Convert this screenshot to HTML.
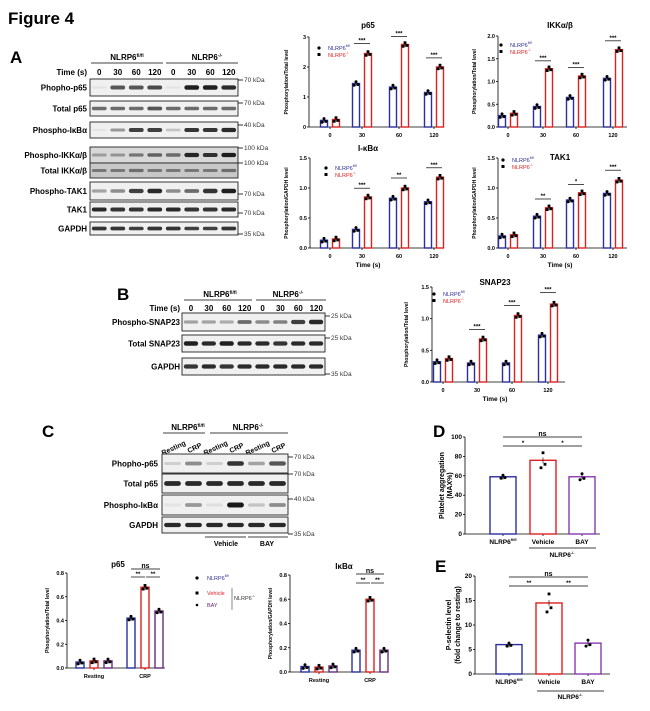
<!DOCTYPE html>
<html><head><meta charset="utf-8"><style>
html,body{margin:0;padding:0;background:#fff;}
svg{display:block;font-family:"Liberation Sans",Arial,sans-serif;}
</style></head><body>
<svg id="s" width="650" height="711" viewBox="0 0 650 711" xmlns="http://www.w3.org/2000/svg">
<text x="8" y="24" font-size="17" font-weight="bold">Figure 4</text>
<text x="10" y="63" font-size="17" font-weight="bold">A</text>
<text x="117" y="300" font-size="17" font-weight="bold">B</text>
<text x="42" y="437" font-size="17" font-weight="bold">C</text>
<text x="433" y="437" font-size="17" font-weight="bold">D</text>
<text x="435" y="572" font-size="17" font-weight="bold">E</text>
</svg>
<script>
const S=document.getElementById('s');let h='';
const B='#2b2f9e',R='#e02020',P='#6a2a7a';
function T(x,y,t,o){o=o||{};h+=`<text x="${x}" y="${y}" font-size="${o.fs||6}" ${o.b?'font-weight="bold"':''} text-anchor="${o.a||'middle'}" fill="${o.c||'#000'}" ${o.r?`transform="rotate(${o.r} ${x} ${y})"`:''}>${t}</text>`;}
function L(x1,y1,x2,y2,c,w){h+=`<line x1="${x1}" y1="${y1}" x2="${x2}" y2="${y2}" stroke="${c||'#000'}" stroke-width="${w||0.8}"/>`;}
const fl='NLRP6<tspan font-size="60%" dy="-3">fl/fl</tspan>',ko='NLRP6<tspan font-size="60%" dy="-3">-/-</tspan>';
function blot(x1,x2,y1,y2,n,ints,bg){h+=`<rect x="${x1}" y="${y1}" width="${x2-x1}" height="${y2-y1}" fill="${bg||'#f0f0f0'}" stroke="#222" stroke-width="0.9"/>`;
 const lw=(x2-x1)/n;for(let i=0;i<n;i++){const a=ints[i];const cx=x1+lw*(i+.5),cy=(y1+y2)/2;const hh=Math.max(1.5,(y2-y1)*0.14+a*2.2);
 h+=`<rect x="${cx-lw*0.4}" y="${cy-hh/2}" width="${lw*0.8}" height="${hh}" rx="${hh/2}" fill="rgba(20,20,20,${a})"/>`;}}
function chart(c){const y=v=>c.y0-(v/c.max)*(c.y0-c.yt);
 L(c.ax,c.yt,c.ax,c.y0);L(c.ax,c.y0,c.xe,c.y0);
 c.ticks.forEach(t=>{L(c.ax-2,y(t[0]),c.ax,y(t[0]));T(c.ax-3,y(t[0])+2,t[1],{a:'end',fs:c.fs||5.5,b:1});});
 c.cats.forEach(k=>{L(k[0],c.y0,k[0],c.y0+2);T(k[0],c.y0+10,k[1],{fs:c.cfs||5.5,b:1});});
 if(c.title)T(c.tx,c.ty,c.title,{fs:c.tfs||8,b:1});
 if(c.xl)T(c.tx,c.y0+19,c.xl,{fs:6.5,b:1});
 c.yl.forEach((l,i)=>T(l[0],(c.yt+c.y0)/2,l[1],{fs:c.yfs||5,b:1,r:-90}));
 c.bars.forEach(b=>{const w=b.w||7,top=y(b.v);h+=`<rect x="${b.x-w/2}" y="${top}" width="${w}" height="${c.y0-top}" fill="#fff" stroke="${b.c}" stroke-width="1.4"/>`;
  const e=(c.y0-c.yt)*0.03;L(b.x,top-e,b.x,top+e,'#000',0.6);
  [-2,0,2].forEach((d,i)=>{const yy=top+[1.5,-1.5,0.8][i]*(b.sp||1.2);if(b.m=='s')h+=`<rect x="${b.x+d-1.4}" y="${yy-1.4}" width="2.8" height="2.8" fill="#000"/>`;else h+=`<circle cx="${b.x+d}" cy="${yy}" r="1.5" fill="#000"/>`;});});
 (c.sig||[]).forEach(s=>{L(s[0],s[2],s[1],s[2],'#000',0.7);T((s[0]+s[1])/2,s[2]-1,s[3],{fs:s[4]||6,b:1});});
 if(c.leg){const [lx,ly]=c.leg;h+=`<circle cx="${lx}" cy="${ly}" r="1.6" fill="#000"/><rect x="${lx-1.5}" y="${ly+5}" width="3" height="3" fill="#000"/>`;
  T(lx+9,ly+2,fl,{a:'start',fs:5.5,c:B});T(lx+9,ly+9,ko,{a:'start',fs:5.5,c:R});}}
const AX1=90,AX2=238;
T(127,60,fl,{fs:8,b:1});L(91,63,163,63);T(207,60,ko,{fs:8,b:1});L(166,63,238,63);
T(87,75,'Time (s)',{a:'end',fs:8,b:1});
['0','30','60','120','0','30','60','120'].forEach((t,i)=>T(AX1+18.5*(i+.5),75,t,{fs:8,b:1}));
const rowsA=[['Phopho-p65',79,96,[.05,.7,.7,.75,.05,.95,.95,.9],'70 kDa',82],
['Total p65',101,116,[.6,.6,.6,.7,.6,.6,.6,.6],'70 kDa',105],
['Phospho-I&#954;B&#945;',122,138,[.05,.4,.8,.8,.2,.85,.85,.9],'40 kDa',127],
['Phospho-IKK&#945;/&#946;',147,163,[.3,.35,.5,.6,.55,.9,.85,.95],'100 kDa',150],
['Total IKK&#945;/&#946;',163,178,[.45,.45,.5,.45,.45,.45,.45,.5],'100 kDa',165],
['Phospho-TAK1',182,200,[.35,.45,.8,.9,.45,.6,.85,.95],'70 kDa',196],
['TAK1',202,217,[.9,.85,.85,.9,.9,.85,.85,.9],'70 kDa',215],
['GAPDH',222,235,[.85,.85,.8,.85,.85,.8,.8,.85],'35 kDa',236]];
rowsA.forEach(r=>{blot(AX1,AX2,r[1],r[2],8,r[3],r[0].startsWith('Total IKK')?'#c8c8c8':(r[0].startsWith('Phospho-IKK')?'#d8d8d8':'#f0f0f0'));T(87,(r[1]+r[2])/2+3,r[0],{a:'end',fs:8,b:1});L(238,r[5]-2,243,r[5]-2);T(244,r[5],r[4],{a:'start',fs:6.5,c:'#333'});});
function grp(ticks,b,r,off){let o=[];ticks.forEach((t,i)=>{o.push({x:t-off,v:b[i],c:B,m:'c'});o.push({x:t+off,v:r[i],c:R,m:'s'});});return o;}
const cA=[330,362,399,434],cB=[508,543,576,613];
function sig4(ticks,r,max,y0,yt,labs){return ticks.map((t,i)=>{const yy=y0-(r[i]/max)*(y0-yt)-7;return [t-8,t+8,yy,labs[i]];});}
let d={ax:309,y0:127,yt:37,max:3,xe:443,ticks:[[0,'0'],[1,'1'],[2,'2'],[3,'3']],cats:cA.map((x,i)=>[x,['0','30','60','120'][i]]),title:'p65',tx:368,ty:28,yl:[[288,'Phosphorylation/Total level']],leg:[319,48]};
d.bars=grp(cA,[.22,1.45,1.33,1.15],[.25,2.45,2.75,2.0],6);d.sig=sig4(cA,[.25,2.55,2.78,2.07],3,127,37,['','***','***','***']).filter(s=>s[3]);chart(d);
d={ax:498,y0:127,yt:36,max:2,xe:627,ticks:[[0,'0.0'],[.5,'0.5'],[1,'1.0'],[1.5,'1.5'],[2,'2.0']],cats:cB.map((x,i)=>[x,['0','30','60','120'][i]]),title:'IKK&#945;/&#946;',tx:560,ty:28,yl:[[476,'Phosphorylation/Total level']],leg:[501,45]};
d.bars=grp(cB,[.25,.45,.65,1.07],[.3,1.28,1.12,1.7],6);d.sig=sig4(cB,[.3,1.3,1.15,1.74],2,127,36,['','***','***','***']).filter(s=>s[3]);chart(d);
d={ax:310,y0:248,yt:158,max:1.5,xe:443,ticks:[[0,'0.0'],[.5,'0.5'],[1,'1.0'],[1.5,'1.5']],cats:cA.map((x,i)=>[x,['0','30','60','120'][i]]),title:'I-&#954;B&#945;',tx:368,ty:151,xl:'Time (s)',yl:[[288,'Phosphorylation/GAPDH level']],leg:[326,168]};
d.bars=grp(cA,[.13,.31,.83,.77],[.15,.85,1.0,1.18],6);d.sig=sig4(cA,[.15,.88,1.05,1.22],1.5,248,158,['','***','**','***']).filter(s=>s[3]);chart(d);
d={ax:498,y0:248,yt:158,max:1.5,xe:627,ticks:[[0,'0.0'],[.5,'0.5'],[1,'1.0'],[1.5,'1.5']],cats:cB.map((x,i)=>[x,['0','30','60','120'][i]]),title:'TAK1',tx:560,ty:160,xl:'Time (s)',yl:[[476,'Phosphorylation/GAPDH level']],leg:[503,160]};
d.bars=grp(cB,[.2,.53,.8,.91],[.22,.67,.92,1.13],6);d.sig=sig4(cB,[.22,.7,.94,1.18],1.5,248,158,['','**','*','***']).filter(s=>s[3]);chart(d);
const BX1=182,BX2=325;
T(220,297,fl,{fs:8,b:1});L(184,300,252,300);T(288,297,ko,{fs:8,b:1});L(256,300,326,300);
T(180,311,'Time (s)',{a:'end',fs:8,b:1});
['0','30','60','120','0','30','60','120'].forEach((t,i)=>T(BX1+17.9*(i+.5),311,t,{fs:8,b:1}));
[['Phospho-SNAP23',313,331,[.35,.35,.3,.6,.45,.5,.8,.9],'25 kDa',318],
['Total SNAP23',335,352,[.95,.9,.95,.9,.9,.85,.9,.9],'25 kDa',340],
['GAPDH',358,375,[.85,.9,.85,.9,.9,.9,.9,.9],'35 kDa',376]].forEach(r=>{blot(BX1,BX2,r[1],r[2],8,r[3]);T(180,(r[1]+r[2])/2+3,r[0],{a:'end',fs:8,b:1});L(325,r[5]-2,330,r[5]-2);T(331,r[5],r[4],{a:'start',fs:6.5,c:'#333'});});
const cS=[443,477,512,548];
d={ax:432,y0:382,yt:287,max:1.5,xe:565,ticks:[[0,'0.0'],[.5,'0.5'],[1,'1.0'],[1.5,'1.5']],cats:cS.map((x,i)=>[x,['0','30','60','120'][i]]),title:'SNAP23',tx:495,ty:285,xl:'Time (s)',yl:[[408,'Phosphorylation/Total level']],leg:[434,294]};
d.bars=grp(cS,[.32,.3,.3,.74],[.37,.68,1.05,1.23],6);d.sig=sig4(cS,[.37,.72,1.1,1.3],1.5,382,287,['','***','***','***']).filter(s=>s[3]);chart(d);
const CX1=162,CX2=288;
T(188,430,fl,{fs:8,b:1});L(163,433,205,433);T(248,430,ko,{fs:8,b:1});L(210,433,288,433);
['Resting','CRP','Resting','CRP','Resting','CRP'].forEach((t,i)=>T(CX1+21*(i+.5)+2,450,t,{fs:7,b:1,r:-25}));
[['Phopho-p65',454,473,[.15,.45,.15,.85,.35,.7],'70 kDa',459],
['Total p65',474,493,[.9,.9,.9,.9,.9,.9],'70 kDa',476],
['Phospho-I&#954;B&#945;',495,515,[.05,.4,.08,.98,.2,.45],'40 kDa',501],
['GAPDH',517,533,[.9,.9,.9,.9,.9,.9],'35 kDa',536]].forEach(r=>{blot(CX1,CX2,r[1],r[2],6,r[3]);T(158,(r[1]+r[2])/2+3,r[0],{a:'end',fs:8,b:1});L(288,r[5]-2,293,r[5]-2);T(294,r[5],r[4],{a:'start',fs:6.5,c:'#333'});});
L(205,537,246,537);L(248,537,288,537);T(226,546,'Vehicle',{fs:7,b:1});T(267,546,'BAY',{fs:7,b:1});
function grp3(cs,b,r,p){let o=[];cs.forEach((t,i)=>{o.push({x:t-14,v:b[i],c:B,m:'c',w:8});o.push({x:t,v:r[i],c:R,m:'s',w:8});o.push({x:t+14,v:p[i],c:P,m:'c',w:8});});return o;}
d={ax:67,y0:668,yt:573,max:0.8,xe:165,ticks:[[0,'0.0'],[.2,'0.2'],[.4,'0.4'],[.6,'0.6'],[.8,'0.8']],cats:[[94,'Resting'],[145,'CRP']],title:'p65',tx:118,ty:567,yl:[[49,'Phosphorylation/Total level']]};
d.bars=grp3([94,145],[.05,.42],[.06,.68],[.06,.48]);d.sig=[[131,145,577,'**'],[146,160,577,'**'],[131,160,569,'ns',7]];chart(d);
h+=`<circle cx="197" cy="578" r="1.6" fill="#000"/><rect x="195.5" y="591.5" width="3" height="3" fill="#000"/><circle cx="197" cy="605" r="1.3" fill="#000"/>`;
T(207,580,fl,{a:'start',fs:5.5,c:B});T(207,595,'Vehicle',{a:'start',fs:5.5,c:R});T(207,607,'BAY',{a:'start',fs:5.5,c:P});L(232,588,232,610,'#555',0.7);T(234,600,ko,{a:'start',fs:5.5,c:'#333'});
d={ax:290,y0:672,yt:575,max:0.8,xe:388,ticks:[[0,'0.0'],[.2,'0.2'],[.4,'0.4'],[.6,'0.6'],[.8,'0.8']],cats:[[319,'Resting'],[370,'CRP']],title:'I&#954;B&#945;',tx:344,ty:569,yl:[[272,'Phosphorylation/GAPDH level']]};
d.bars=grp3([319,370],[.045,.18],[.04,.6],[.05,.18]);d.sig=[[356,370,583,'**'],[371,384,583,'**'],[356,384,574,'ns',7]];chart(d);
d={ax:465,y0:534,yt:437,max:100,xe:600,ticks:[[0,'0'],[20,'20'],[40,'40'],[60,'60'],[80,'80'],[100,'100']],cats:[[503,fl],[543,'Vehicle'],[582,'BAY']],cfs:6.5,yl:[[444,'Platelet aggregation'],[452,'(MAX%)']],yfs:7,fs:6.5};
d.bars=[{x:503,v:59,c:B,m:'c',w:26,sp:1},{x:543,v:76,c:R,m:'s',w:26,sp:5},{x:582,v:59,c:'#8a3ab0',m:'c',w:26,sp:2}];
d.sig=[[503,582,437,'ns',7],[503,543,446,'*'],[543,582,446,'*']];chart(d);
L(529,548,596,548);T(562,557,ko,{fs:6.5,b:1});
d={ax:475,y0:674,yt:576,max:20,xe:610,ticks:[[0,'0'],[5,'5'],[10,'10'],[15,'15'],[20,'20']],cats:[[509,fl],[549,'Vehicle'],[588,'BAY']],cfs:6.5,yl:[[451,'P-selectin level'],[460,'(fold change to resting)']],yfs:7,fs:6.5};
d.bars=[{x:509,v:6,c:B,m:'c',w:26,sp:1},{x:549,v:14.5,c:R,m:'s',w:26,sp:6},{x:588,v:6.3,c:'#8a3ab0',m:'c',w:26,sp:2}];
d.sig=[[509,588,577,'ns',7],[509,549,586,'**'],[549,588,586,'**']];chart(d);
L(537,691,604,691);T(570,699,ko,{fs:6.5,b:1});
S.insertAdjacentHTML('beforeend',h);
</script>
</body></html>
